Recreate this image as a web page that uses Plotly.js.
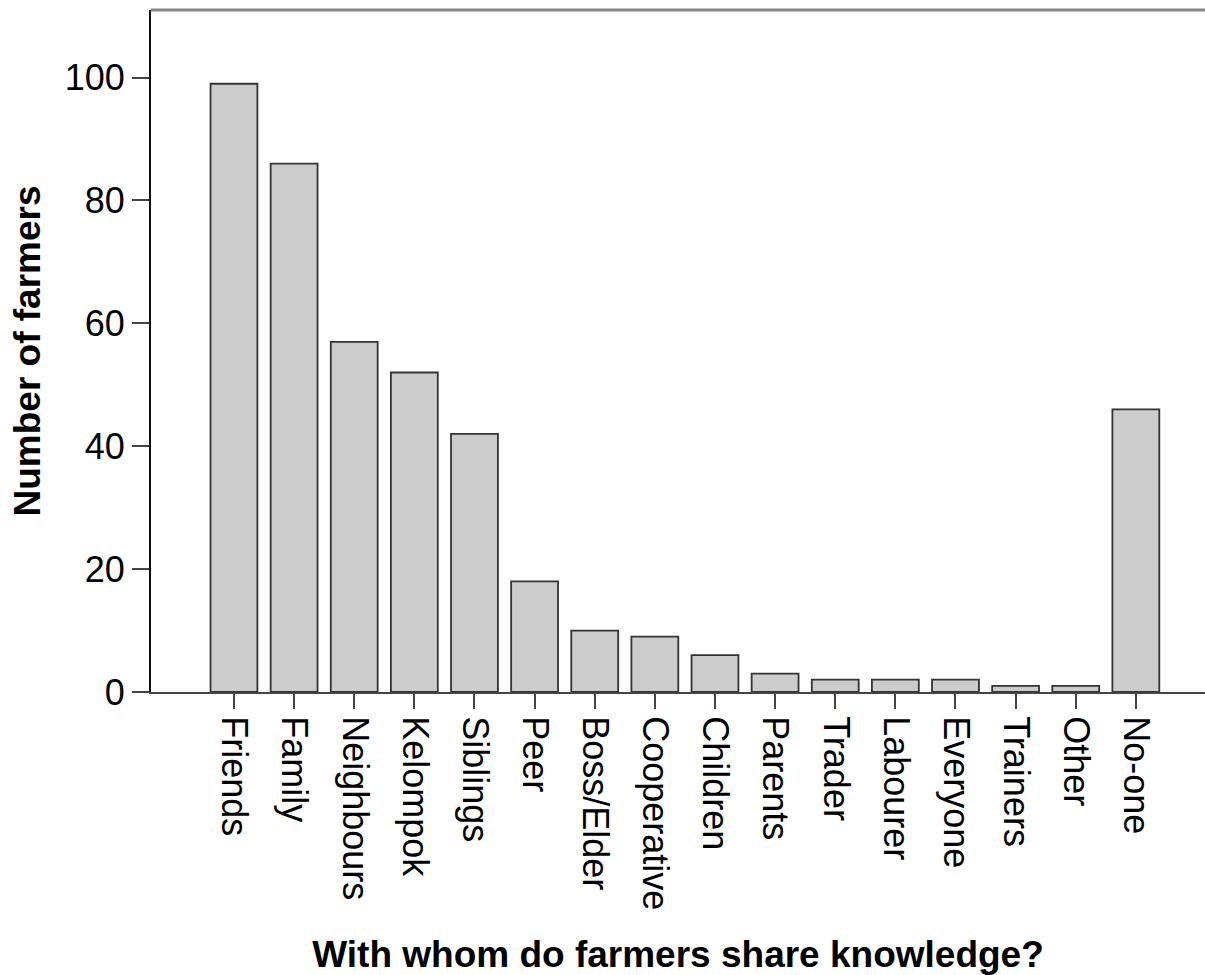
<!DOCTYPE html>
<html>
<head>
<meta charset="utf-8">
<script src="https://cdn.plot.ly/plotly-3.0.1.min.js"></script>
<style>html,body{margin:0;padding:0;background:#fff;}#chart{width:1205px;height:975px;}</style>
</head>
<body>
<div id="chart"></div>
<script>
const categories = ["Friends","Family","Neighbours","Kelompok","Siblings","Peer","Boss/Elder","Cooperative","Children","Parents","Trader","Labourer","Everyone","Trainers","Other","No-one"];
const counts = [99, 86, 57, 52, 42, 18, 10, 9, 6, 3, 2, 2, 2, 1, 1, 46];
const yTicks = [0, 20, 40, 60, 80, 100];
const xTitle = "With whom do farmers share knowledge?";
const yTitle = "Number of farmers";

const font = "Arial, 'Liberation Sans', sans-serif";

const trace = {
  type: "bar",
  x: categories,
  y: counts,
  marker: {color: "#cccccc", line: {color: "#333333", width: 1.8}},
  hoverinfo: "x+y"
};

const layout = {
  width: 1205, height: 975,
  margin: {l: 151, r: 0, t: 10, b: 283, pad: 0},
  paper_bgcolor: "#ffffff",
  plot_bgcolor: "#ffffff",
  showlegend: false,
  bargap: 0.22,
  font: {family: font, color: "#000", size: 36},
  xaxis: {
    type: "category",
    range: [-1.38, 16.15],
    showline: true, linecolor: "#444", linewidth: 2,
    ticks: "outside", ticklen: 15, tickwidth: 2, tickcolor: "#444",
    tickangle: 90,
    tickfont: {family: font, size: 36, color: "#000"},
    showgrid: false, zeroline: false,
    automargin: false,
    title: {text: xTitle, font: {family: font, size: 37, color: "#000", weight: "bold"}, standoff: 32}
  },
  yaxis: {
    range: [0, 111],
    tickvals: yTicks,
    showline: true, linecolor: "#111", linewidth: 2,
    ticks: "outside", ticklen: 17, tickwidth: 2, tickcolor: "#444",
    tickfont: {family: font, size: 36, color: "#000"},
    showgrid: false, zeroline: false,
    automargin: false,
    title: {text: yTitle, font: {family: font, size: 37, color: "#000", weight: "bold"}, standoff: 13}
  },
  shapes: [
    {type: "line", xref: "paper", yref: "paper", x0: 0, x1: 1, y0: 1, y1: 1, line: {color: "#888", width: 3}}
  ]
};

Plotly.newPlot("chart", [trace], layout, {displayModeBar: false, staticPlot: true});
</script>
</body>
</html>
